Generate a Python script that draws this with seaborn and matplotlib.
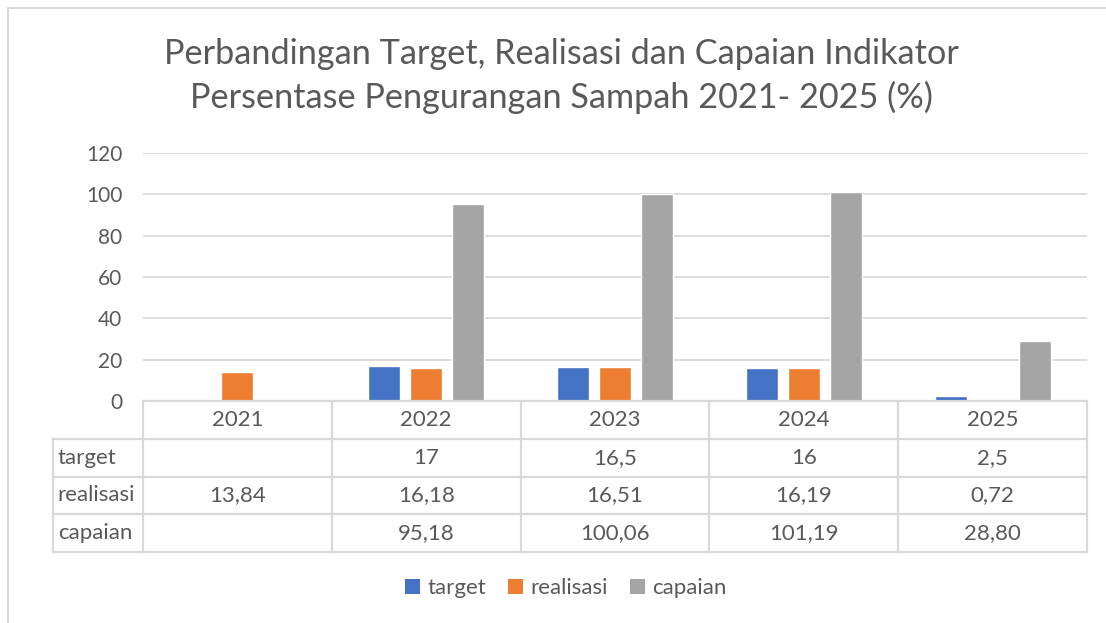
import matplotlib
matplotlib.use("Agg")
import matplotlib.pyplot as plt
import numpy as np
import pandas as pd
import seaborn as sns

from matplotlib.patches import Rectangle, Patch

years = ["2021", "2022", "2023", "2024", "2025"]
target = [np.nan, 17, 16.5, 16, 2.5]
realisasi = [13.84, 16.18, 16.51, 16.19, 0.72]
capaian = [np.nan, 95.18, 100.06, 101.19, 28.80]
series_names = ["target", "realisasi", "capaian"]
colors = ["#4472C4", "#ED7D31", "#A5A5A5"]
title = "Perbandingan Target, Realisasi dan Capaian Indikator\nPersentase Pengurangan Sampah 2021- 2025 (%)"

TXT = "#595959"
GRID = "#D9D9D9"
FS = 16

sns.set_theme(style="white")
plt.rcParams["font.family"] = ["Lato", "DejaVu Sans"]

W, H = 1106, 623
fig = plt.figure(figsize=(W / 100, H / 100), dpi=100)


def fx(px):
    return px / W


def fy(py):
    return 1 - py / H


# plot area in pixels
left, right, top, bottom = 143, 1087, 153, 401
tab_left, tab_bottom = 53, 552
ax = fig.add_axes([fx(left), fy(bottom), fx(right - left), fy(top) - fy(bottom)])

df = pd.DataFrame({"year": years, "target": target, "realisasi": realisasi, "capaian": capaian})
long = df.melt(id_vars="year", var_name="series", value_name="value")

sns.barplot(data=long, x="year", y="value", hue="series", order=years,
            hue_order=series_names, palette=colors, width=0.667, gap=0.24,
            saturation=1, errorbar=None, legend=False, ax=ax)

ax.set_xlim(-0.5, len(years) - 0.5)
ax.set_ylim(0, 120)
ax.set_yticks(range(0, 121, 20))
ax.yaxis.grid(True, color=GRID, linewidth=1.3)
ax.set_axisbelow(True)
for s in ax.spines.values():
    s.set_visible(False)
ax.set_xticks([])
ax.set_xlabel("")
ax.set_ylabel("")
ax.tick_params(axis="y", length=0, pad=15, labelsize=15, labelcolor=TXT)


# data table under the plot
def fmt_target(v):
    return "" if np.isnan(v) else f"{v:g}".replace(".", ",")


def fmt_two(v):
    return "" if np.isnan(v) else f"{v:.2f}".replace(".", ",")


rows = [
    ("target", [fmt_target(v) for v in target]),
    ("realisasi", [fmt_two(v) for v in realisasi]),
    ("capaian", [fmt_two(v) for v in capaian]),
]

# table axes: x in category units (label column to the left), y in rows
lab_units = (left - tab_left) / ((right - left) / len(years))
n_rows = len(rows) + 1
tax = fig.add_axes([fx(tab_left), fy(tab_bottom), fx(right - tab_left), fy(bottom) - fy(tab_bottom)])
tax.set_xlim(-0.5 - lab_units, len(years) - 0.5)
tax.set_ylim(n_rows, 0)
tax.axis("off")
lkw = dict(color=GRID, linewidth=1.6, solid_capstyle="projecting", clip_on=False)
# horizontal lines
tax.plot([-0.5, len(years) - 0.5], [0, 0], **lkw)
for r in range(1, n_rows + 1):
    tax.plot([-0.5 - lab_units, len(years) - 0.5], [r, r], **lkw)
# vertical lines
tax.plot([-0.5 - lab_units] * 2, [1, n_rows], **lkw)
for c in range(len(years) + 1):
    tax.plot([c - 0.5] * 2, [0, n_rows], **lkw)
for j, yr in enumerate(years):
    tax.text(j, 0.5, yr, ha="center", va="center", fontsize=FS, color=TXT)
for i, (name, vals) in enumerate(rows, start=1):
    tax.text(-0.5 - lab_units + 0.025, i + 0.5, name, ha="left", va="center",
             fontsize=FS, color=TXT)
    for j, v in enumerate(vals):
        tax.text(j, i + 0.5, v, ha="center", va="center", fontsize=FS, color=TXT)

fig.text(fx(561), fy(76), title, ha="center", va="center", fontsize=24.7,
         color=TXT, linespacing=1.4)

handles = [Patch(facecolor=col, edgecolor="none", label=n) for n, col in zip(series_names, colors)]
fig.legend(handles=handles, loc="center", bbox_to_anchor=(fx(566), fy(588)), ncol=3,
           frameon=False, fontsize=FS, labelcolor=TXT, handlelength=0.65,
           handleheight=0.65, handletextpad=0.35, columnspacing=1.0)

# chart frame (top and left edges visible)
fig.add_artist(Rectangle((fx(7.5), -0.1), 1.2, fy(7.5) + 0.1, transform=fig.transFigure,
                         fill=False, edgecolor=GRID, linewidth=1.5))

fig.savefig("out.png", dpi=100, facecolor="white")
